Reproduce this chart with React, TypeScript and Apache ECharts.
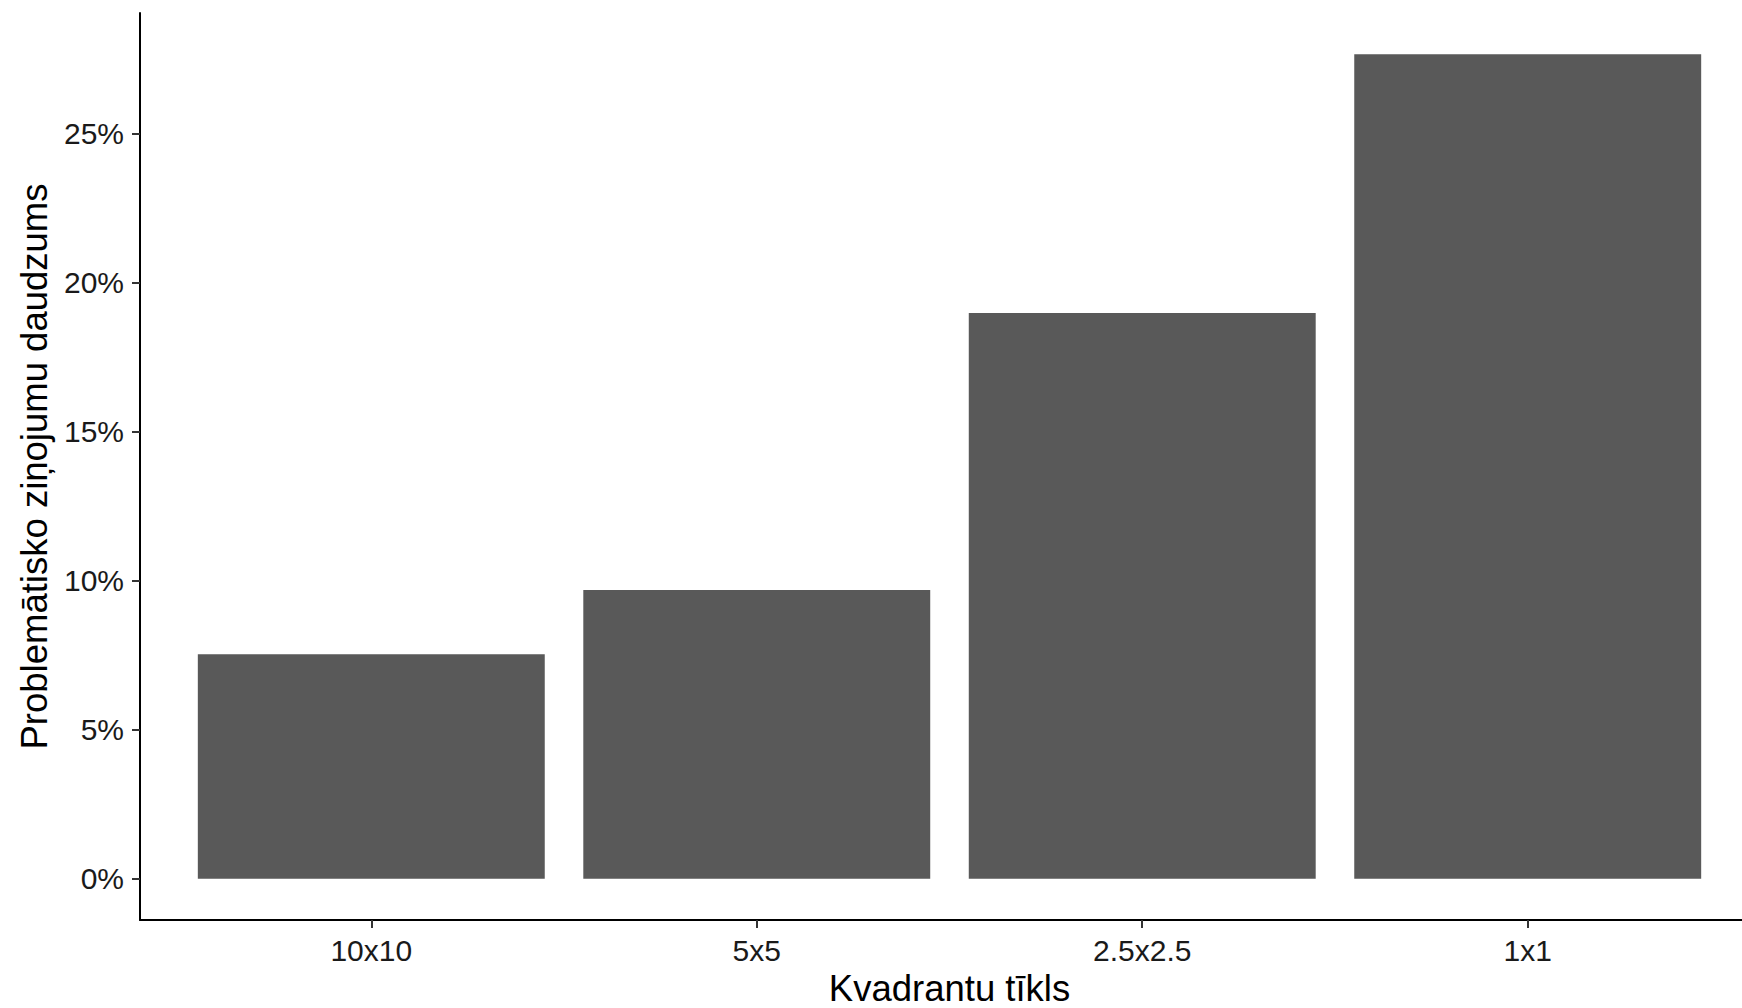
import React, { useEffect, useRef } from "react";
import * as echarts from "echarts";

const categories = ["10x10", "5x5", "2.5x2.5", "1x1"];
const values = [7.53, 9.68, 18.97, 27.65];
const yTicks = [0, 5, 10, 15, 20, 25];

export default function App() {
  const ref = useRef<HTMLDivElement>(null);
  useEffect(() => {
    if (!ref.current) return;
    const chart = echarts.init(ref.current, null, { renderer: "svg" });
    const maxV = Math.max(...values);
    const pad = maxV * 0.05;
    const xPos = categories.map((_, i) => i + 1);
    chart.setOption({
      animation: false,
      backgroundColor: "#ffffff",
      textStyle: { fontFamily: "Liberation Sans" },
      grid: {
        left: 140,
        top: 13,
        width: 1619,
        height: 907,
        containLabel: false,
        outerBoundsMode: "none",
      },
      xAxis: {
        type: "value",
        min: 0.4,
        max: categories.length + 0.6,
        name: "Kvadrantu tīkls",
        nameLocation: "middle",
        nameGap: 49,
        nameTextStyle: { fontSize: 36.5, lineHeight: 38, color: "#000", fontFamily: "Liberation Sans" },
        axisLine: { onZero: false, lineStyle: { color: "#000", width: 2 } },
        axisTick: { show: true, length: 8, lineStyle: { color: "#333", width: 2 }, customValues: xPos },
        axisLabel: {
          fontSize: 30,
          color: "#1a1a1a",
          margin: 15,
          fontFamily: "Liberation Sans",
          customValues: xPos,
          formatter: (v: number) => categories[Math.round(v) - 1] ?? "",
        },
        splitLine: { show: false },
      },
      yAxis: {
        type: "value",
        min: -pad,
        max: maxV + pad,
        name: "Problemātisko ziņojumu daudzums",
        nameLocation: "middle",
        nameGap: 87,
        nameRotate: 90,
        nameTextStyle: { fontSize: 36.5, color: "#000", fontFamily: "Liberation Sans" },
        axisLine: { show: true, lineStyle: { color: "#000", width: 2 } },
        axisTick: { show: true, length: 8, lineStyle: { color: "#333", width: 2 }, customValues: yTicks },
        axisLabel: {
          fontSize: 30,
          color: "#1a1a1a",
          margin: 16,
          fontFamily: "Liberation Sans",
          customValues: yTicks,
          formatter: (v: number) => `${Math.round(v)}%`,
        },
        splitLine: { show: false },
      },
      series: [
        {
          type: "bar",
          data: values.map((v, i) => [xPos[i], v]),
          barWidth: "90%",
          itemStyle: { color: "#595959" },
        },
      ],
    });
    return () => chart.dispose();
  }, []);
  return (
    <div
      ref={ref}
      style={{ position: "fixed", left: 0, top: 0, width: 1742, height: 1008 }}
    />
  );
}
